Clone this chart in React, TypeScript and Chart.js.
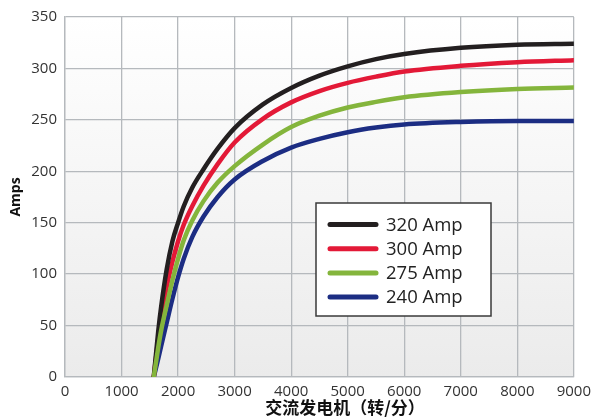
import React, { useEffect, useRef } from "react";
import { Chart, registerables } from "chart.js";

Chart.register(...registerables);

const rpm = [1570, 1650, 1700, 1800, 1900, 2000, 2100, 2250, 2450, 2700, 3000, 3500, 4000, 4500, 5000, 5500, 6000, 7000, 8000, 9000];
const amp320 = [0, 45, 68, 105, 132, 150, 166, 184, 202, 222, 242, 265, 281, 293, 302, 309, 314, 320, 323, 324];
const amp300 = [0, 38, 58, 88, 112, 132, 148, 166, 186, 207, 228, 251, 267, 278, 286, 292, 297, 302.5, 306, 308];
const amp275 = [0, 29, 45, 70, 94, 115, 133, 152, 171, 189, 205, 226, 243, 254, 262, 267.5, 272, 277, 280, 281.5];
const amp240 = [0, 18, 30, 53, 76, 97, 115, 136, 156, 175, 192, 210, 223, 231.5, 238, 242.5, 245.5, 248, 249, 249];
const seriesLabels = ["320 Amp", "300 Amp", "275 Amp", "240 Amp"];
const seriesColors = ["#231f20", "#e31937", "#84b53c", "#1c2d83"];
const seriesOrder = [1, 2, 0, 3];
const seriesValues = [amp320, amp300, amp275, amp240];
const xTitle = "交流发电机（转/分）";
const yTitle = "Amps";

const FONT = "'Open Sans', 'Noto Sans', sans-serif";

const bgPlugin = {
  id: "bgGradient",
  beforeDraw(chart: any) {
    const { ctx, chartArea } = chart;
    if (!chartArea) return;
    const g = ctx.createLinearGradient(0, chartArea.top, 0, chartArea.bottom);
    g.addColorStop(0, "#ffffff");
    g.addColorStop(1, "#ebebeb");
    ctx.save();
    ctx.fillStyle = g;
    ctx.fillRect(chartArea.left, chartArea.top, chartArea.right - chartArea.left, chartArea.bottom - chartArea.top);
    ctx.restore();
  },
};

const overlayPlugin = {
  id: "overlay",
  afterDraw(chart: any) {
    const { ctx } = chart;
    ctx.save();
    // x-axis title
    ctx.fillStyle = "#111";
    ctx.font = `bold 17px 'Noto Sans CJK SC', sans-serif`;
    ctx.textAlign = "center";
    ctx.textBaseline = "middle";
    ctx.fillText(xTitle, 345, 408);
    // legend box
    const bx = 316, by = 203, bw = 175, bh = 113;
    ctx.fillStyle = "#ffffff";
    ctx.fillRect(bx, by, bw, bh);
    ctx.strokeStyle = "#3a3a3a";
    ctx.lineWidth = 1.5;
    ctx.strokeRect(bx, by, bw, bh);
    chart.data.datasets.forEach((ds: any, i: number) => {
      const y = 224.5 + i * 24.2;
      ctx.strokeStyle = ds.borderColor;
      ctx.lineWidth = 5;
      ctx.lineCap = "round";
      ctx.beginPath();
      ctx.moveTo(330, y);
      ctx.lineTo(376, y);
      ctx.stroke();
      ctx.fillStyle = "#222";
      ctx.font = `18.5px ${FONT}`;
      ctx.textAlign = "left";
      ctx.textBaseline = "middle";
      ctx.fillText(ds.label, 386, y + 1);
    });
    ctx.restore();
  },
};

export default function App() {
  const ref = useRef<HTMLCanvasElement | null>(null);
  useEffect(() => {
    if (!ref.current) return;
    const datasets = seriesValues.map((vals, i) => ({
      label: seriesLabels[i],
      data: rpm.map((x, j) => ({ x, y: vals[j] })),
      borderColor: seriesColors[i],
      backgroundColor: seriesColors[i],
      borderWidth: 4.5,
      pointRadius: 0,
      borderCapStyle: "round" as const,
      cubicInterpolationMode: "monotone" as const,
      order: seriesOrder[i],
      fill: false,
    }));
    const grid = { color: "#b5b9bd", lineWidth: 1.3, drawTicks: false };
    const chart = new Chart(ref.current, {
      type: "line",
      data: { datasets },
      plugins: [bgPlugin, overlayPlugin],
      options: {
        animation: false,
        responsive: true,
        maintainAspectRatio: false,
        layout: { padding: { top: 14, right: 23, left: 0, bottom: 0 } },
        plugins: { legend: { display: false }, tooltip: { enabled: false } },
        scales: {
          x: {
            type: "linear",
            min: 0,
            max: 9000,
            grid,
            border: { color: "#b5b9bd", width: 1.3 },
            ticks: {
              stepSize: 1000,
              color: "#333",
              padding: 6,
              font: { family: FONT, size: 15 },
              maxRotation: 0,
              callback: (v: any) => String(v),
            },
            afterFit(scale: any) { scale.height = 43; },
          },
          y: {
            min: 0,
            max: 350,
            grid,
            border: { color: "#b5b9bd", width: 1.3 },
            ticks: { stepSize: 50, color: "#333", padding: 8, font: { family: FONT, size: 15 } },
            title: { display: true, text: yTitle, color: "#111", font: { family: FONT, size: 14, weight: "bold" }, padding: { top: 8, bottom: 0 } },
            afterFit(scale: any) { scale.width = 65; },
          },
        },
      },
    });
    return () => chart.destroy();
  }, []);
  return (
    <div style={{ position: "fixed", left: 0, top: 0, width: 597, height: 420, background: "#fff" }}>
      <canvas ref={ref} />
    </div>
  );
}
